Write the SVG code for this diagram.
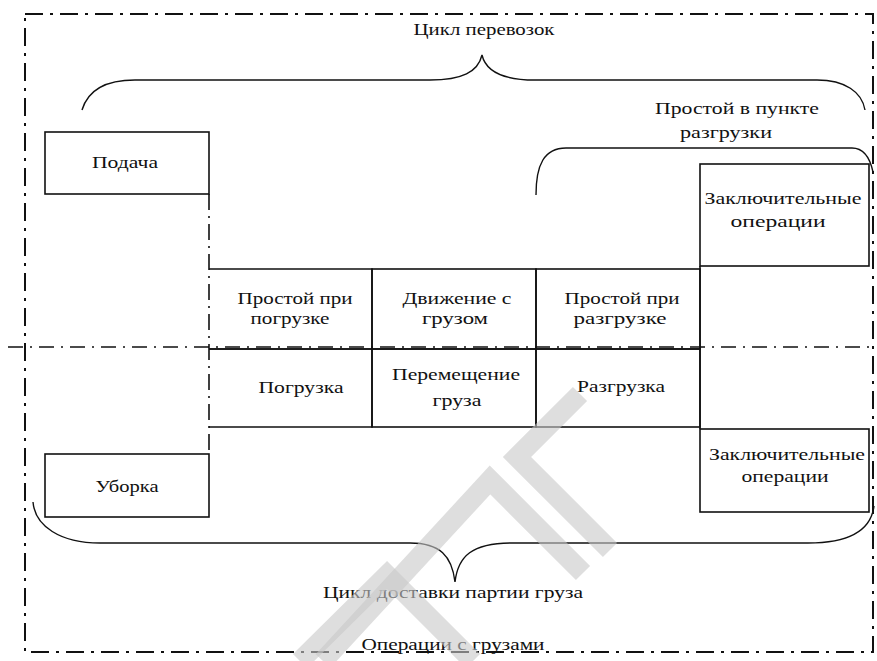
<svg xmlns="http://www.w3.org/2000/svg" width="877" height="661" viewBox="0 0 877 661">
<style>
.box{fill:none;stroke:#111;stroke-width:1.6}
.brace{fill:none;stroke:#111;stroke-width:1.4}
.frame{fill:none;stroke:#111;stroke-width:2;stroke-dasharray:18,7,3,7}
.axis{fill:none;stroke:#111;stroke-width:1.3;stroke-dasharray:15,7,2,7}
.div{fill:none;stroke:#111;stroke-width:1.6;stroke-dasharray:16,6,2,6}
.t{font-family:'Liberation Serif','Times New Roman',serif;font-size:17px;fill:#111;text-anchor:middle}
.wm{fill:none;stroke:#c8c8c8;stroke-opacity:0.6;stroke-width:20;stroke-linecap:butt;stroke-linejoin:miter}
</style>
<rect width="877" height="661" fill="#fff"/>
<g id="frame">
<rect class="frame" x="25" y="14" width="848" height="638"/>
</g>
<g id="connectors">
<line class="axis" x1="8" y1="347" x2="873" y2="347"/>
<line class="div" x1="209" y1="194" x2="209" y2="454"/>
<path class="brace" d="M82 110 C88 90,105 80,135 80 L430 80 C462 80,478 72,482 55 C486 72,503 80,535 80 L817 80 C845 80,862 92,865 110"/>
<path class="brace" d="M536 195 C536 165,544 148,566 148 L852 148 C864 148,870 158,873 172"/>
<path class="brace" d="M33 502 C35 526,60 543,100 543 L410 543 C440 543,452 556,455 582 C458 556,472 543,512 543 L808 543 C850 543,871 530,874 506"/>
</g>
<g class="t" font-family="Liberation Serif, Times New Roman, serif">
<g id="label-cycle">
<text x="484" y="35" textLength="141" lengthAdjust="spacingAndGlyphs">Цикл перевозок</text>
</g>
<g id="label-idle-unload">
<text x="737" y="114" textLength="164" lengthAdjust="spacingAndGlyphs">Простой в пункте</text>
<text x="726" y="138" textLength="92" lengthAdjust="spacingAndGlyphs">разгрузки</text>
</g>
<g id="podacha">
<rect class="box" x="45" y="132" width="164" height="62"/>
<text x="125" y="168" textLength="66" lengthAdjust="spacingAndGlyphs">Подача</text>
</g>
<g id="final-top">
<rect class="box" x="700" y="164" width="169" height="102"/>
<text x="783" y="204" textLength="157" lengthAdjust="spacingAndGlyphs">Заключительные</text>
<text x="778" y="227" textLength="95" lengthAdjust="spacingAndGlyphs">операции</text>
</g>
<g id="idle-load">
<path class="box" d="M209 269 H372 V349 H209"/>
<text x="295" y="304" textLength="115" lengthAdjust="spacingAndGlyphs">Простой при</text>
<text x="290" y="324" textLength="79" lengthAdjust="spacingAndGlyphs">погрузке</text>
</g>
<g id="move-loaded">
<rect class="box" x="372" y="269" width="164" height="80"/>
<text x="457" y="304" textLength="109" lengthAdjust="spacingAndGlyphs">Движение с</text>
<text x="455" y="324" textLength="66" lengthAdjust="spacingAndGlyphs">грузом</text>
</g>
<g id="idle-unload">
<rect class="box" x="536" y="269" width="164" height="80"/>
<text x="622" y="304" textLength="115" lengthAdjust="spacingAndGlyphs">Простой при</text>
<text x="620" y="324" textLength="93" lengthAdjust="spacingAndGlyphs">разгрузке</text>
</g>
<g id="loading">
<path class="box" d="M209 349 H372 V427 H209"/>
<text x="301" y="393" textLength="85" lengthAdjust="spacingAndGlyphs">Погрузка</text>
</g>
<g id="moving">
<rect class="box" x="372" y="349" width="164" height="78"/>
<text x="456" y="380" textLength="128" lengthAdjust="spacingAndGlyphs">Перемещение</text>
<text x="457" y="406" textLength="49" lengthAdjust="spacingAndGlyphs">груза</text>
</g>
<g id="unloading">
<rect class="box" x="536" y="349" width="164" height="78"/>
<text x="621" y="392" textLength="88" lengthAdjust="spacingAndGlyphs">Разгрузка</text>
</g>
<g id="right-column">
<line class="box" x1="700" y1="266" x2="700" y2="429"/>
</g>
<g id="final-bottom">
<rect class="box" x="700" y="429" width="169" height="83"/>
<text x="787" y="460" textLength="156" lengthAdjust="spacingAndGlyphs">Заключительные</text>
<text x="785" y="482" textLength="87" lengthAdjust="spacingAndGlyphs">операции</text>
</g>
<g id="uborka">
<rect class="box" x="45" y="454" width="164" height="63"/>
<text x="127" y="492" textLength="63" lengthAdjust="spacingAndGlyphs">Уборка</text>
</g>
<g id="label-delivery">
<text x="453" y="598" textLength="260" lengthAdjust="spacingAndGlyphs">Цикл доставки партии груза</text>
</g>
<g id="label-ops">
<text x="453" y="650" textLength="183" lengthAdjust="spacingAndGlyphs">Операции с грузами</text>
</g>
</g>
<g id="watermark">
<polyline class="wm" points="580,394 517,457 610,550"/>
<polyline class="wm" points="323,661 490,480 583,573"/>
<polyline class="wm" points="300,661 387,575 473,661"/>
</g>
</svg>
